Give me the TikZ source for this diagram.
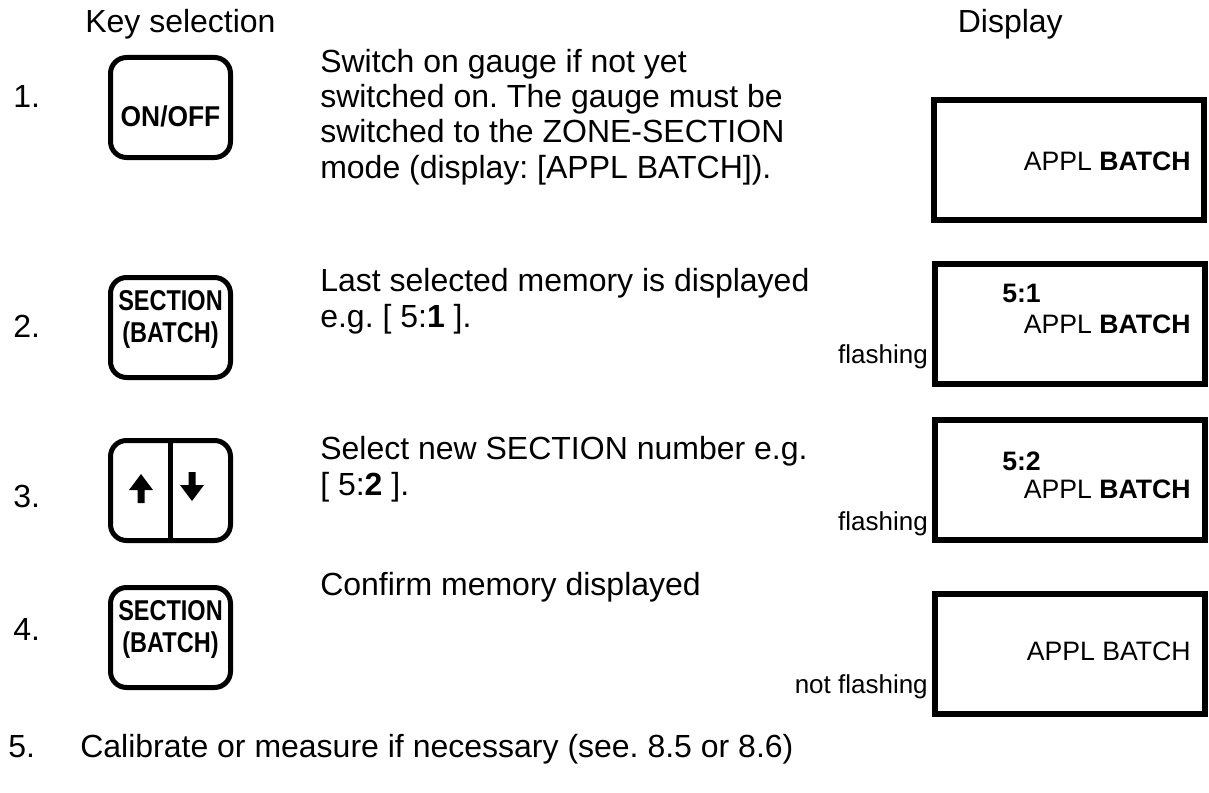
\documentclass[tikz,border=0pt]{standalone}
\usepackage{fontspec}
\setmainfont{Liberation Sans}
\newfontfamily\keyfont[FakeStretch=0.82]{Liberation Sans}
\newfontfamily\keyfontwide[FakeStretch=0.92]{Liberation Sans}
\usepackage{tikz}
\usetikzlibrary{positioning}
\frenchspacing

\tikzset{
  keybox/.style={draw, line width=3.75pt, rounded corners=12pt,
    minimum width=90pt, minimum height=75pt, inner sep=0pt},
  keytext/.style={font=\keyfont\bfseries\fontsize{21.5}{24}\selectfont,
    align=center, inner sep=0pt},
  display/.style={draw, line width=4.5pt, minimum width=202.5pt,
    minimum height=90pt, inner sep=0pt},
  txt/.style={font=\fontsize{24}{26.5}\selectfont, inner sep=0pt,
    anchor=base west, align=left},
  disptxt/.style={font=\fontsize{20}{22}\selectfont, inner sep=0pt,
    anchor=base east},
  small/.style={font=\fontsize{19.5}{22}\selectfont, inner sep=0pt,
    anchor=base east}
}

\begin{document}
\begin{tikzpicture}[x=0.75pt, y=-0.75pt]
  \useasboundingbox (0,0) rectangle (1209,792);

  % Kopfzeile
  \node[txt] (head1) at (85,33) {Key selection};
  \node[txt, anchor=base east] (head2) at (1063,33) {Display};

  % Nummern
  \node[txt] (n1) at (13,107) {1.};
  \node[txt] (n2) at (13,337) {2.};
  \node[txt] (n3) at (13,507) {3.};
  \node[txt] (n4) at (13,640) {4.};

  % Tasten
  \node[keybox] (k1) at (170.5,107.5) {};
  \node[keytext, font=\keyfontwide\bfseries\fontsize{21.5}{24}\selectfont]
    (t1) at ([yshift=-7pt]k1.center) {ON/OFF};

  \node[keybox] (k2) at (170.5,327.5) {};
  \node[keytext] (t2) at ([yshift=6pt]k2.center) {SECTION\\(BATCH)};

  \node[keybox] (k3) at (170.5,490.5) {};
  \draw[line width=3.75pt] (k3.north) -- (k3.south);
  % Pfeile
  \fill (141,474) -- ++(12,16) -- ++(-8.5,0) -- ++(0,13) -- ++(-7,0)
        -- ++(0,-13) -- ++(-8.5,0) -- cycle;
  \fill (192,501) -- ++(12,-16) -- ++(-8.5,0) -- ++(0,-13) -- ++(-7,0)
        -- ++(0,13) -- ++(-8.5,0) -- cycle;

  \node[keybox] (k4) at (170.5,637.5) {};
  \node[keytext] (t4) at ([yshift=6pt]k4.center) {SECTION\\(BATCH)};

  % Beschreibungen (Anker = letzte Zeile)
  \node[txt] (d1) at (320,178) {Switch on gauge if not yet\\
    switched on. The gauge must be\\
    switched to the ZONE-SECTION\\
    mode (display: [APPL BATCH]).};
  \node[txt] (d2) at (320,327) {Last selected memory is displayed\\
    e.g. [ 5:\textbf{1} ].};
  \node[txt] (d3) at (320,495) {Select new SECTION number e.g.\\
    {[} 5:\textbf{2} ].};
  \node[txt] (d4) at (320,595) {Confirm memory displayed};

  % Anzeigen
  \node[display] (a1) at (1069,160) {};
  \node[disptxt] (a1t) at (1191,170) {APPL \textbf{BATCH}};

  \node[display] (a2) at (1070,323.5) {};
  \node[disptxt, anchor=base west] (a2n) at (1002,302) {\textbf{5:1}};
  \node[disptxt] (a2t) at (1191,333) {APPL \textbf{BATCH}};
  \node[small] (f2) at (928,363) {flashing};

  \node[display] (a3) at (1070,479.5) {};
  \node[disptxt, anchor=base west] (a3n) at (1002,470) {\textbf{5:2}};
  \node[disptxt] (a3t) at (1191,498) {APPL \textbf{BATCH}};
  \node[small] (f3) at (928,530) {flashing};

  \node[display] (a4) at (1070,653.5) {};
  \node[disptxt] (a4t) at (1191,660) {APPL BATCH};
  \node[small] (f4) at (928,693) {not flashing};

  % Schritt 5
  \node[txt] (n5) at (8,757) {5.};
  \node[txt] (d5) at (80,757) {Calibrate or measure if necessary (see. 8.5 or 8.6)};

\end{tikzpicture}
\end{document}
